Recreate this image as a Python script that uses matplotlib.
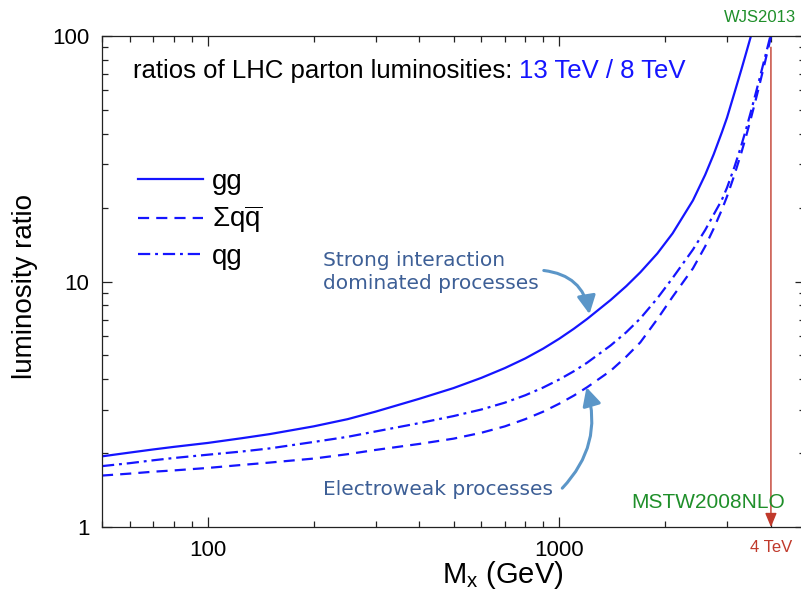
import matplotlib
matplotlib.use("Agg")
import matplotlib.pyplot as plt
from matplotlib.ticker import LogLocator, NullFormatter, FixedFormatter, FixedLocator
from matplotlib.patches import FancyArrowPatch

plt.rcParams['font.family'] = ['Liberation Sans', 'DejaVu Sans']
plt.rcParams['mathtext.fontset'] = 'custom'
plt.rcParams['mathtext.rm'] = 'Liberation Sans'
plt.rcParams['mathtext.it'] = 'Liberation Sans'
plt.rcParams['mathtext.sf'] = 'Liberation Sans'

# invariant mass M_X (GeV)
mass = [50, 60, 70, 80, 100, 125, 150, 200, 250, 300, 400, 500, 600, 700, 800, 900,
        1000, 1100, 1200, 1400, 1550, 1700, 1900, 2100, 2400, 2600, 2750, 2900,
        3000, 3150, 3300, 3400, 3500, 3600, 3700, 3850, 4000, 4300]
# luminosity ratios 13 TeV / 8 TeV
lumi_gg = [1.94, 2.01, 2.07, 2.12, 2.20, 2.30, 2.39, 2.57, 2.75, 2.95, 3.33, 3.68, 4.05, 4.44,
           4.86, 5.33, 5.85, 6.42, 7.04, 8.41, 9.57, 10.9, 13.0, 15.7, 21.4, 27.2, 33.0, 40.5,
           46.5, 58.7, 73.5, 85.3, 98.7, 115, 134, 168, 211, 333]
lumi_qqbar = [1.62, 1.65, 1.68, 1.70, 1.74, 1.79, 1.83, 1.90, 1.98, 2.06, 2.18, 2.29, 2.42, 2.57,
              2.75, 2.95, 3.18, 3.43, 3.71, 4.33, 4.94, 5.65, 7.02, 8.66, 11.31, 13.9, 16.45, 19.6,
              22.2, 27.2, 33.7, 39.1, 45.6, 53.2, 62.2, 78.6, 99.3, 157]
lumi_qg = [1.77, 1.82, 1.87, 1.91, 1.97, 2.03, 2.09, 2.22, 2.33, 2.45, 2.65, 2.83, 3.01, 3.21,
           3.44, 3.70, 3.99, 4.31, 4.67, 5.49, 6.21, 7.07, 8.54, 10.33, 13.49, 16.2, 18.75, 21.5,
           24.1, 29.3, 36.1, 41.8, 48.6, 56.6, 65.8, 82.2, 102, 157]

series_labels = ['gg', r'$\Sigma q\overline{q}$', 'qg']
marker_mass = 4000

blue = '#1515ff'
note_text = '#3d5f96'
note_arrow = '#5b96c8'
green = '#1f8f2a'
red = '#c0392b'

fig = plt.figure(figsize=(8.01, 5.96), dpi=100)
ax = fig.add_axes([102 / 801, 1 - 527 / 596, 703 / 801, 491 / 596])

ax.plot(mass, lumi_gg, color=blue, lw=1.6, label=series_labels[0])
ax.plot(mass, lumi_qqbar, color=blue, lw=1.6, linestyle=(0, (5, 3.2)), label=series_labels[1])
ax.plot(mass, lumi_qg, color=blue, lw=1.6, linestyle=(0, (5.5, 2.2, 1.3, 2.2)), label=series_labels[2])

ax.set_xscale('log')
ax.set_yscale('log')
ax.set_xlim(50, 5000)
ax.set_ylim(1, 100)

ax.xaxis.set_major_locator(FixedLocator([100, 1000]))
ax.xaxis.set_major_formatter(FixedFormatter(['100', '1000']))
ax.xaxis.set_minor_locator(LogLocator(base=10, subs=range(2, 10)))
ax.xaxis.set_minor_formatter(NullFormatter())
ax.yaxis.set_major_locator(FixedLocator([1, 10, 100]))
ax.yaxis.set_major_formatter(FixedFormatter(['1', '10', '100']))
ax.yaxis.set_minor_locator(LogLocator(base=10, subs=range(2, 10)))
ax.yaxis.set_minor_formatter(NullFormatter())

ax.tick_params(which='both', direction='in', top=True, right=True, color='#222222', width=0.9)
ax.tick_params(which='major', length=7, labelsize=16, pad=9)
ax.tick_params(which='minor', length=4)
for s in ax.spines.values():
    s.set_linewidth(0.9)
    s.set_color('#222222')

ax.set_xlabel(r'M$_\mathrm{x}$ (GeV)', fontsize=21)
ax.xaxis.set_label_coords(0.57, -0.066)
ax.set_ylabel('luminosity ratio', fontsize=20)
ax.yaxis.set_label_coords(-0.091, 0.49)

t1 = ax.text(0.044, 0.914, 'ratios of LHC parton luminosities: ', transform=ax.transAxes,
             fontsize=18.5, va='baseline')
ax.annotate('13 TeV / 8 TeV', xy=(1, 0), xycoords=t1, va='bottom', ha='left',
            fontsize=18.5, color=blue)

leg = ax.legend(loc='upper left', bbox_to_anchor=(0.0512, 0.729), frameon=False,
                fontsize=20, handlelength=2.35, handletextpad=0.32, labelspacing=0.3,
                borderpad=0, borderaxespad=0)

ax.text(0.3144, 0.52, 'Strong interaction\ndominated processes', transform=ax.transAxes,
        fontsize=14.5, color=note_text, family='DejaVu Sans', va='center', ha='left',
        linespacing=1.28)
ax.text(0.3144, 0.0754, 'Electroweak processes', transform=ax.transAxes,
        fontsize=14.5, color=note_text, family='DejaVu Sans', va='center', ha='left')

arrow_style = '-|>,head_length=0.55,head_width=0.28'
a1 = FancyArrowPatch((0.6245, 0.523), (0.694, 0.428), transform=ax.transAxes,
                     connectionstyle='arc3,rad=-0.4', arrowstyle=arrow_style,
                     mutation_scale=20, color=note_arrow, lw=2.2)
a2 = FancyArrowPatch((0.652, 0.075), (0.688, 0.29), transform=ax.transAxes,
                     connectionstyle='arc3,rad=0.3', arrowstyle=arrow_style,
                     mutation_scale=20, color=note_arrow, lw=2.2)
ax.add_patch(a1)
ax.add_patch(a2)

ax.annotate('', xy=(marker_mass, 1), xytext=(marker_mass, 90),
            arrowprops=dict(arrowstyle='-|>,head_length=0.6,head_width=0.25',
                            color=red, lw=1.0, mutation_scale=14, shrinkA=0, shrinkB=0))
ax.annotate('4 TeV', xy=(marker_mass, 1), xytext=(0, -14.5), textcoords='offset points',
            ha='center', va='center', fontsize=12, color=red, annotation_clip=False)

ax.text(0.862, 0.0387, 'MSTW2008NLO', transform=ax.transAxes, fontsize=15,
        color=green, ha='center', va='baseline')
ax.annotate('WJS2013', xy=(marker_mass, 100), xytext=(-8, 10), textcoords='offset points',
            ha='center', va='baseline', fontsize=12, color=green, annotation_clip=False)

fig.savefig('out.png', dpi=100)
